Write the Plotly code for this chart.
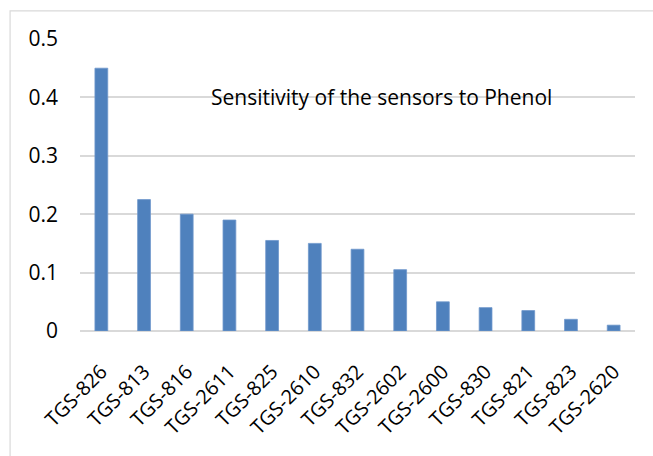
import plotly.graph_objects as go

sensors = ["TGS-826", "TGS-813", "TGS-816", "TGS-2611", "TGS-825", "TGS-2610", "TGS-832",
           "TGS-2602", "TGS-2600", "TGS-830", "TGS-821", "TGS-823", "TGS-2620"]
sensitivity = [0.45, 0.225, 0.2, 0.19, 0.155, 0.15, 0.14, 0.105, 0.05, 0.04, 0.035, 0.02, 0.01]
y_ticks = [0, 0.1, 0.2, 0.3, 0.4, 0.5]
y_tick_labels = ["0", "0.1", "0.2", "0.3", "0.4", "0.5"]
title_text = "Sensitivity of the sensors to Phenol"

FONT = "Open Sans, Liberation Sans, sans-serif"

fig = go.Figure(go.Bar(
    x=sensors, y=sensitivity, width=0.3,
    marker=dict(color="#4F81BD", line=dict(color="#6f97cc", width=0.8)),
))

fig.update_layout(
    width=653, height=456,
    margin=dict(l=80, r=18, t=39, b=125),
    paper_bgcolor="white", plot_bgcolor="white",
    showlegend=False,
    font=dict(family=FONT, color="#000000"),
    xaxis=dict(tickangle=-45, tickfont=dict(size=20, family=FONT), showgrid=False,
               showline=False, ticks="", range=[-0.5, 12.5], ticklabelstandoff=24),
    yaxis=dict(range=[0, 0.5], tickvals=y_ticks, ticktext=y_tick_labels,
               tickfont=dict(size=21, family=FONT), showgrid=True, gridcolor="#d9d9d9",
               gridwidth=1.5, zeroline=True, zerolinecolor="#d9d9d9", zerolinewidth=1.5,
               ticks="", ticklabelstandoff=21),
    annotations=[dict(text=title_text, x=0.544, y=0.4, xref="paper", yref="y",
                      showarrow=False, font=dict(size=21, family=FONT, color="#000"))],
    shapes=[dict(type="rect", xref="paper", yref="paper", x0=-0.126, x1=1.2, y0=-0.6, y1=1.096,
                 line=dict(color="#d9d9d9", width=1.2), fillcolor="rgba(0,0,0,0)", layer="below")],
)

fig.write_html("out.html")
